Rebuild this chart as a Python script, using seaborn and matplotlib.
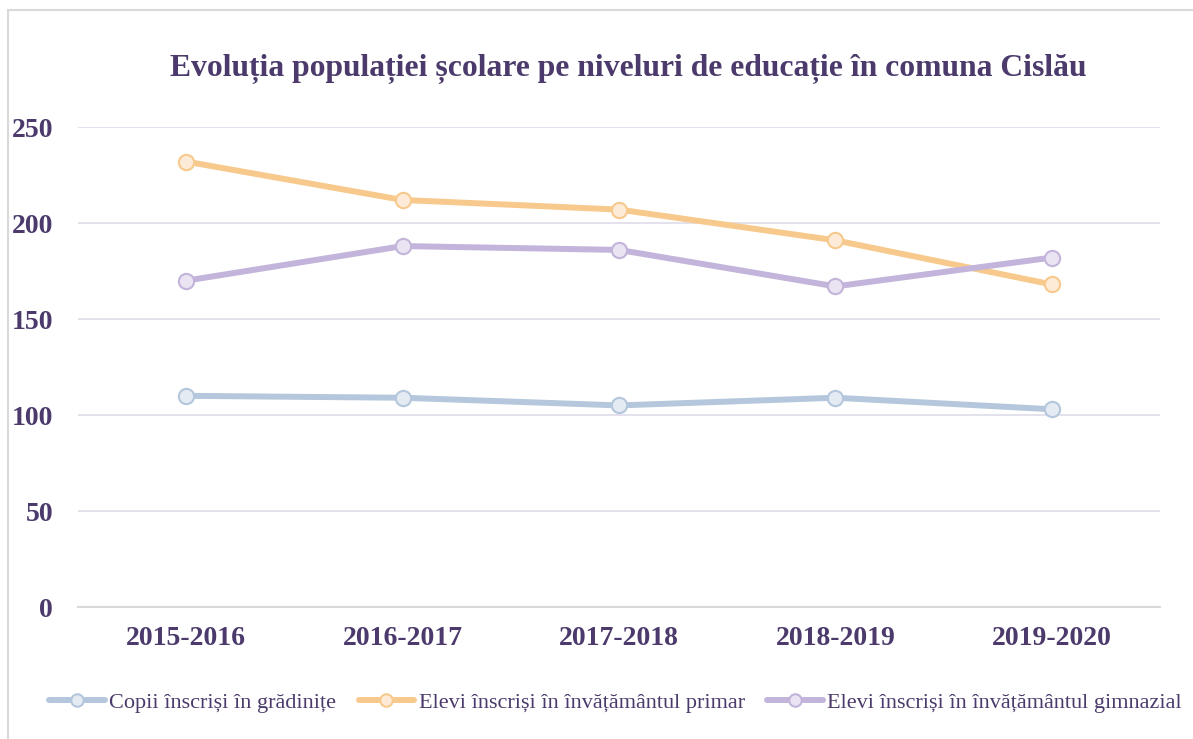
import matplotlib
matplotlib.use('Agg')
import matplotlib.pyplot as plt
import matplotlib.patches as mpatches
import pandas as pd
import seaborn as sns

years = ['2015-2016', '2016-2017', '2017-2018', '2018-2019', '2019-2020']
copii_gradinite = [110, 109, 105, 109, 103]
elevi_primar = [232, 212, 207, 191, 168]
elevi_gimnazial = [170, 188, 186, 167, 182]

series_names = [
    'Copii înscriși în grădinițe',
    'Elevi înscriși în învățământul primar',
    'Elevi înscriși în învățământul gimnazial',
]
line_colors = ['#B4C7DC', '#F8C98C', '#C2B4DA']
face_colors = ['#E4EBF3', '#FDEBD8', '#E9E3F2']
text_color = '#4B3A6B'

df = pd.DataFrame({
    'an': years * 3,
    'valoare': copii_gradinite + elevi_primar + elevi_gimnazial,
    'serie': [s for s in series_names for _ in years],
})

sns.set_style('white')
plt.rcParams['font.family'] = ['Liberation Serif', 'DejaVu Serif']

fig = plt.figure(figsize=(11.93, 7.39), dpi=100)
ax = fig.add_axes([0.0654, 0.1786, 0.907, 0.6495])

# outer chart border
fig.patches.append(mpatches.Rectangle((0.007, -0.01), 1.0, 0.997, transform=fig.transFigure,
                                      fill=False, edgecolor='#D9D9D9', linewidth=1.5))

sns.lineplot(data=df, x='an', y='valoare', hue='serie', hue_order=series_names,
             palette=line_colors, linewidth=4.3, sort=False, ax=ax, legend=False)

handles = []
for i, name in enumerate(series_names):
    line = ax.lines[i]
    line.set_marker('o')
    line.set_markersize(11)
    line.set_markerfacecolor(face_colors[i])
    line.set_markeredgecolor(line_colors[i])
    line.set_markeredgewidth(1.5)
    line.set_solid_capstyle('round')
    h, = ax.plot([], [], color=line_colors[i], linewidth=4.3, marker='o', markersize=9,
                 markerfacecolor=face_colors[i], markeredgecolor=line_colors[i],
                 markeredgewidth=1.5, label=name)
    handles.append(h)

ax.set_xlim(-0.5, 4.5)
ax.set_ylim(0, 250)
ax.set_yticks([0, 50, 100, 150, 200, 250])
ax.grid(axis='y', color='#E1DFEA', linewidth=1.3)
ax.set_axisbelow(True)
for s in ['top', 'right', 'left']:
    ax.spines[s].set_visible(False)
ax.spines['bottom'].set_color('#D9D9D9')
ax.spines['bottom'].set_linewidth(1.5)
ax.tick_params(axis='both', length=0, labelsize=20, labelcolor=text_color)
ax.tick_params(axis='x', pad=14)
ax.tick_params(axis='y', pad=18)
for lab in ax.get_xticklabels() + ax.get_yticklabels():
    lab.set_fontweight('bold')
ax.set_xlabel('')
ax.set_ylabel('')

fig.text(0.527, 0.906, 'Evoluția populației școlare pe niveluri de educație în comuna Cislău',
         ha='center', va='center', fontsize=22.8, fontweight='bold', color=text_color)

fig.legend(handles=handles, loc='center', bbox_to_anchor=(0.516, 0.049), ncol=3,
           frameon=False, fontsize=16, labelcolor=text_color, handlelength=2.5,
           handletextpad=0.2, columnspacing=1.0)

fig.savefig('out.png', dpi=100)
